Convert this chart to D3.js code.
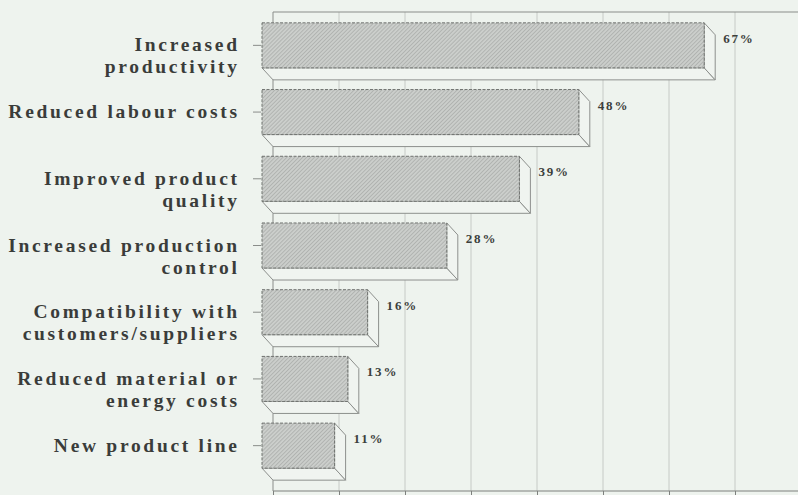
<!DOCTYPE html>
<html>
<head>
<meta charset="utf-8">
<script src="https://cdn.jsdelivr.net/npm/d3@7"></script>
<style>
  html, body { margin: 0; padding: 0; background: #eef3ee; }
  svg { display: block; }
</style>
</head>
<body>
<svg id="chart" width="798" height="495"></svg>
<script>
// ---- data ----
const categories = [
  "Increased productivity",
  "Reduced labour costs",
  "Improved product quality",
  "Increased production control",
  "Compatibility with customers/suppliers",
  "Reduced material or energy costs",
  "New product line"
];
const labelLines = [
  ["Increased", "productivity"],
  ["Reduced labour costs"],
  ["Improved product", "quality"],
  ["Increased production", "control"],
  ["Compatibility with", "customers/suppliers"],
  ["Reduced material or", "energy costs"],
  ["New product line"]
];
const values = [67, 48, 39, 28, 16, 13, 11];
const valueLabels = ["67%", "48%", "39%", "28%", "16%", "13%", "11%"];
const xTicks = [0, 10, 20, 30, 40, 50, 60, 70, 80];

// ---- layout ----
const W = 798, H = 495;
const depthX = 11, depthY = 12;
const wallTop = 12, wallBottom = 491;
const svg = d3.select("#chart");

svg.append("rect").attr("width", W).attr("height", H).attr("fill", "#eef3ee");

// back-wall x scale
const x = d3.scaleLinear().domain([0, 80]).range([273, 801]);
// front-face band scale
const y = d3.scaleBand().domain(categories).range([12, 479])
  .paddingInner(0.325).paddingOuter(0.1625);

// hatch pattern
const defs = svg.append("defs");
const pat = defs.append("pattern").attr("id", "hatch")
  .attr("patternUnits", "userSpaceOnUse").attr("width", 2.8).attr("height", 2.8)
  .attr("patternTransform", "rotate(45)");
pat.append("rect").attr("width", 2.8).attr("height", 2.8).attr("fill", "#cbcecb");
pat.append("line").attr("x1", 0).attr("y1", 0).attr("x2", 0).attr("y2", 2.8)
  .attr("stroke", "#939693").attr("stroke-width", 0.9);

// gridlines on back wall
svg.append("g").selectAll("line").data(xTicks).join("line")
  .attr("x1", d => x(d)).attr("x2", d => x(d))
  .attr("y1", wallTop).attr("y2", wallBottom)
  .attr("stroke", d => d === 0 ? "#8a8d8a" : "#c6cac6").attr("stroke-width", 1);

// top frame line
svg.append("line").attr("x1", x(0)).attr("x2", W).attr("y1", wallTop).attr("y2", wallTop)
  .attr("stroke", "#8a8d8a").attr("stroke-width", 1.2);

// bottom axis
const xAxis = d3.axisBottom(x).tickValues(xTicks).tickSize(5).tickFormat("");
const gx = svg.append("g").attr("transform", `translate(0,${wallBottom})`).call(xAxis);
gx.select(".domain").attr("stroke", "#7d807d").attr("stroke-width", 1.2).attr("d", `M${x(0)},0H${W}`);
gx.selectAll(".tick line").attr("stroke", "#7d807d");

// bars
const fx = v => x(v) - depthX;  // front-face x
const bars = svg.append("g");
categories.forEach((c, i) => {
  const v = values[i];
  const x0 = fx(0), x1 = fx(v);
  const t = y(c), b = y(c) + y.bandwidth();
  const g = bars.append("g");
  // bottom face
  g.append("path")
    .attr("d", `M${x0},${b}L${x1},${b}L${x1 + depthX},${b + depthY}L${x0 + depthX},${b + depthY}Z`)
    .attr("fill", "#f0f4f0").attr("stroke", "#8d908d").attr("stroke-width", 1);
  // side face
  g.append("path")
    .attr("d", `M${x1},${t}L${x1 + depthX},${t + depthY}L${x1 + depthX},${b + depthY}L${x1},${b}Z`)
    .attr("fill", "#f0f4f0").attr("stroke", "#8d908d").attr("stroke-width", 1);
  // front face
  g.append("rect")
    .attr("x", x0).attr("y", t).attr("width", x1 - x0).attr("height", y.bandwidth())
    .attr("fill", "url(#hatch)").attr("stroke", "#6f726f").attr("stroke-width", 1)
    .attr("stroke-dasharray", "3,1.5");
  // value label
  g.append("text")
    .attr("x", x1 + 19).attr("y", t + 20)
    .attr("font-family", "'Liberation Serif', 'Times New Roman', serif")
    .attr("font-weight", "bold").attr("font-size", 13)
    .attr("letter-spacing", 1.8)
    .attr("fill", "#3c3f3c")
    .text(valueLabels[i]);
});

// left category ticks
svg.append("g").selectAll("line").data(categories).join("line")
  .attr("x1", 253).attr("x2", 261)
  .attr("y1", d => y(d) + y.bandwidth() / 2).attr("y2", d => y(d) + y.bandwidth() / 2)
  .attr("stroke", "#8a8d8a");

// category labels
const ls = 2.7;
const lab = svg.append("g")
  .attr("font-family", "'Liberation Serif', 'Times New Roman', serif")
  .attr("font-weight", "bold").attr("font-size", 19.5)
  .attr("fill", "#3a3c3a").attr("text-anchor", "end")
  .attr("letter-spacing", ls);
categories.forEach((c, i) => {
  const cy = y(c) + y.bandwidth() / 2;
  labelLines[i].forEach((line, j) => {
    lab.append("text").attr("x", 237 + ls).attr("y", cy + 6 + j * 22).text(line);
  });
});
</script>
</body>
</html>
